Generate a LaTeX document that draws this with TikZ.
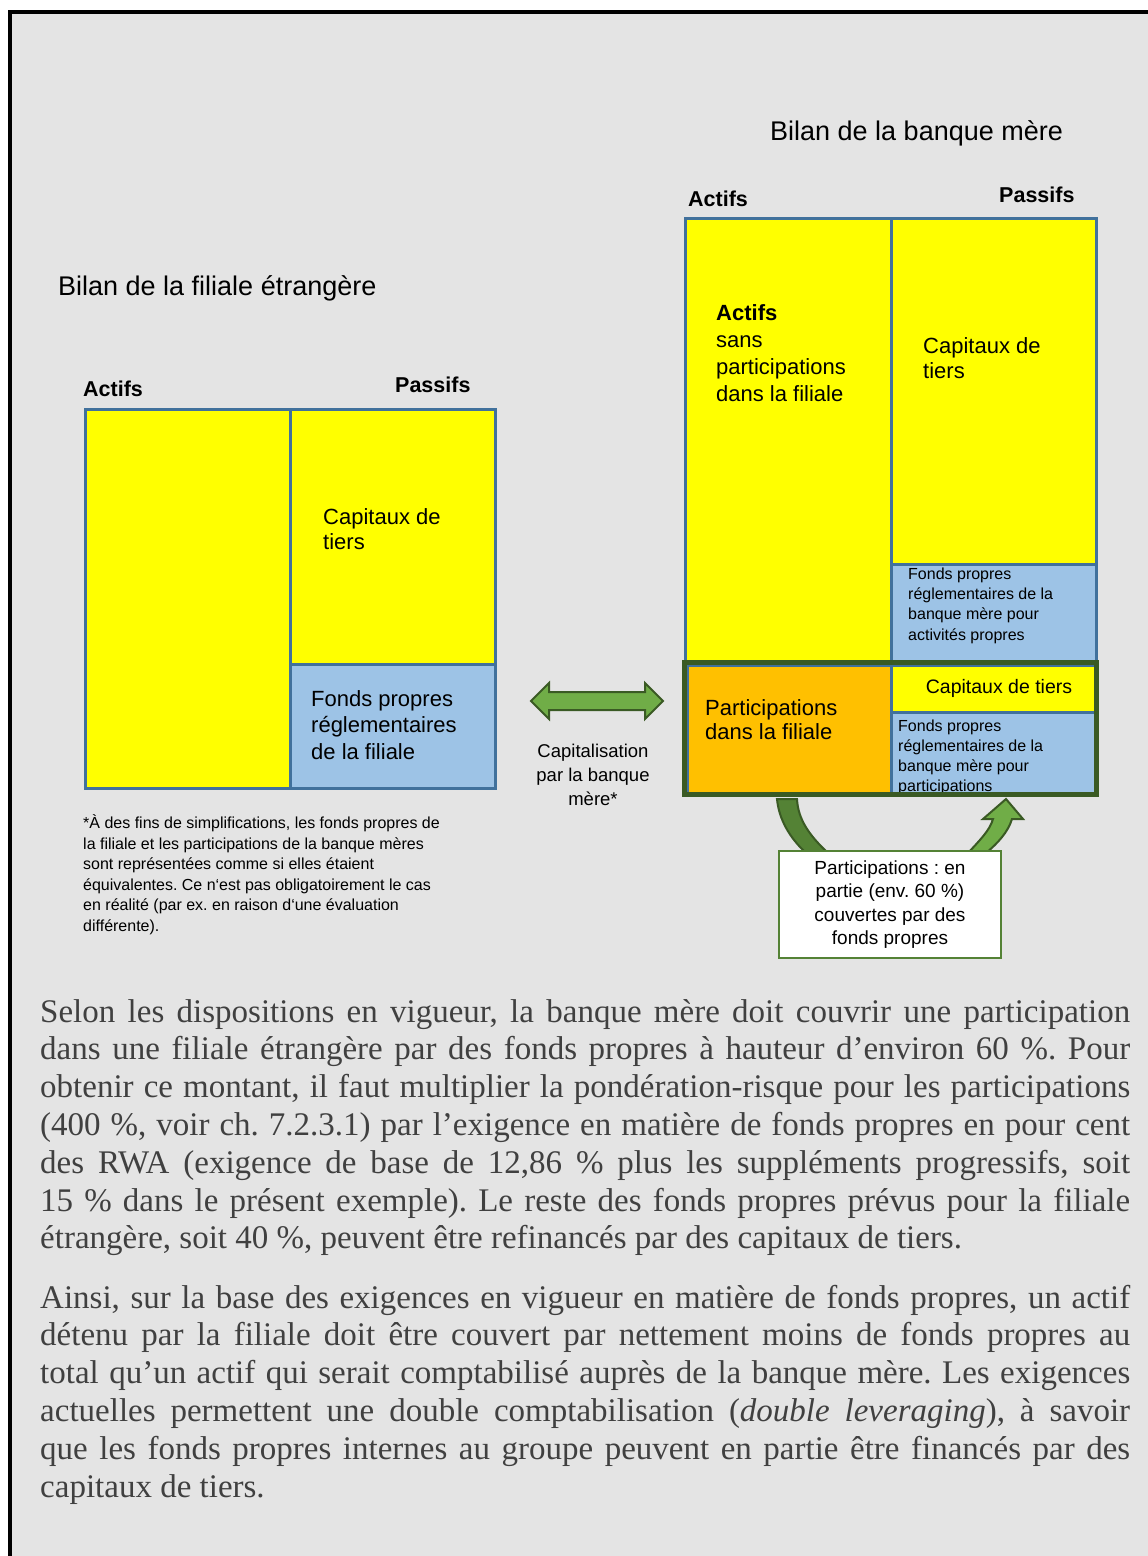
\documentclass[tikz,border=0pt]{standalone}
\usepackage{fontspec}
\setmainfont{Liberation Serif}
\setsansfont{Liberation Sans}
\usetikzlibrary{positioning}
\frenchspacing

\definecolor{bgray}{HTML}{E4E4E4}
\definecolor{cyel}{HTML}{FFFF00}
\definecolor{cblue}{HTML}{9DC3E6}
\definecolor{cedge}{HTML}{41719C}
\definecolor{corange}{HTML}{FFC000}
\definecolor{gdark}{HTML}{3A5A24}
\definecolor{gmid}{HTML}{548235}
\definecolor{glight}{HTML}{70AD47}
\definecolor{bodytxt}{HTML}{404040}

\begin{document}
\begin{tikzpicture}[x=1pt, y=-1pt,
  cell/.style={draw=cedge, line width=2.5pt, inner sep=0pt, anchor=north west},
  head/.style={font=\fontsize{21.5}{26}\selectfont\sffamily\bfseries, inner sep=0pt, anchor=base west},
  title/.style={font=\fontsize{27}{32}\selectfont\sffamily, inner sep=0pt, anchor=base west},
  big/.style={font=\fontsize{22}{26.5}\selectfont\sffamily, inner sep=0pt, anchor=base west, align=left},
  small/.style={font=\fontsize{16}{20.3}\selectfont\sffamily, inner sep=0pt, anchor=base west, align=left},
  note/.style={font=\fontsize{16}{20.6}\selectfont\sffamily, inner sep=0pt, anchor=base west, align=left},
  infobox/.style={draw=gmid, fill=white, line width=1.2pt, minimum width=222, minimum height=107, inner sep=0pt, align=center, font=\fontsize{19}{23.6}\selectfont\sffamily},
  bodytext/.style={font=\fontsize{33}{37.8}\selectfont, text=bodytxt, text width=1090pt, align=justify, inner sep=0pt, anchor=base west},
  blockarrow/.style={draw=gdark, line width=2pt, line join=miter},
]
\useasboundingbox (0,0) rectangle (1148,1556);
\fill[white] (0,0) rectangle (1148,1556);
\fill[bgray] (10,12) rectangle (1148,1556);
\draw[line width=3.5pt] (10,1556) -- (10,12) -- (1148,12);

% filiale
\node[title] (tFil) at (58,295) {Bilan de la filiale étrangère};
\node[head] (fAhead) at (83,396) {Actifs};
\node[head] (fPhead) at (395,392) {Passifs};
\node[cell, fill=cyel, minimum width=205, minimum height=379] (fAct) at (84,408) {};
\node[cell, fill=cyel, minimum width=205, minimum height=255] (fCap) at (289,408) {};
\node[cell, fill=cblue, minimum width=205, minimum height=124] (fFp) at (289,663) {};
\node[big, font=\fontsize{22}{25}\selectfont\sffamily] (fCapText) at (323,549) {Capitaux de\\tiers};
\node[big] (fFpText) at (311,759) {Fonds propres\\réglementaires\\de la filiale};

% banque mere
\node[title] (tMere) at (770,140) {Bilan de la banque mère};
\node[head] (mAhead) at (688,206) {Actifs};
\node[head] (mPhead) at (999,202) {Passifs};
\node[cell, fill=cyel, minimum width=206, minimum height=445] (mAct) at (684,217) {};
\node[cell, fill=cyel, minimum width=205, minimum height=346] (mCap) at (890,217) {};
\node[cell, fill=cblue, minimum width=205, minimum height=99] (mFp) at (890,563) {};
\node[big, font=\fontsize{22}{27}\selectfont\sffamily] (mActText) at (716,401) {\textbf{Actifs}\\sans\\participations\\dans la filiale};
\node[big, font=\fontsize{22}{25}\selectfont\sffamily] (mCapText) at (923,378) {Capitaux de\\tiers};
\node[small] (mFpText) at (908,640) {Fonds propres\\réglementaires de la\\banque mère pour\\activités propres};

% participations
\node[cell, fill=corange, minimum width=204, minimum height=130] (pOr) at (686,664) {};
\node[cell, fill=cyel, minimum width=205, minimum height=47] (pCap) at (890,664) {};
\node[cell, fill=cblue, minimum width=205, minimum height=83] (pFp) at (890,711) {};
\node[big, font=\fontsize{22}{24.5}\selectfont\sffamily] (pOrText) at (705,739.5) {Participations\\dans la filiale};
\node[big, font=\fontsize{19.5}{24}\selectfont\sffamily, anchor=base] (pCapText) at (999,693) {Capitaux de tiers};
\begin{scope}
  \clip (890,711) rectangle (1095,792);
  \node[small, font=\fontsize{16}{20}\selectfont\sffamily] (pFpText) at (898,791.7) {Fonds propres\\réglementaires de la\\banque mère pour\\participations};
\end{scope}
\draw[gdark, line width=5pt] (684,662.5) rectangle (1096,794.5);

% capitalisation
\draw[blockarrow, fill=glight] (531,701) -- (549,683) -- (549,692) -- (645,692) -- (645,683)
  -- (663,701) -- (645,719) -- (645,710) -- (549,710) -- (549,719) -- cycle;
\node[big, font=\fontsize{18.5}{24}\selectfont\sffamily, align=center, anchor=base] (capText) at (593,805) {Capitalisation\\par la banque\\mère*};
\node[note] (fnote) at (83,931.5) {*À des fins de simplifications, les fonds propres de\\la filiale et les participations de la banque mères\\sont représentées comme si elles étaient\\équivalentes. Ce n‘est pas obligatoirement le cas\\en réalité (par ex. en raison d‘une évaluation\\différente).};

% couverture
\draw[blockarrow, fill=gmid] (777,799) .. controls (779,820) and (790,838) .. (806,853)
  -- (828,853) .. controls (810,836) and (798,820) .. (797,799) -- cycle;
\draw[blockarrow, fill=glight] (968,853) .. controls (980,840) and (990,830) .. (993,819)
  -- (983,819) -- (1006,799) -- (1023,819) -- (1012,819)
  .. controls (1008,832) and (998,843) .. (986,853) -- cycle;
\node[infobox] (share) at (890,904.5) {Participations : en\\partie (env.~60~\%)\\couvertes par des\\fonds propres};

% texte
\node[bodytext] (para1) at (40,1022) {Selon les dispositions en vigueur, la banque mère doit couvrir une participation\linebreak
dans une filiale étrangère par des fonds propres à hauteur d’environ 60~\%. Pour\linebreak
obtenir ce montant, il faut multiplier la pondération-risque pour les participations\linebreak
(400~\%, voir ch. 7.2.3.1) par l’exigence en matière de fonds propres en pour cent\linebreak
des RWA (exigence de base de 12,86~\% plus les suppléments progressifs, soit\linebreak
15~\% dans le présent exemple). Le reste des fonds propres prévus pour la filiale\linebreak
étrangère, soit 40~\%, peuvent être refinancés par des capitaux de tiers.};
\node[bodytext] (para2) at (40,1308) {Ainsi, sur la base des exigences en vigueur en matière de fonds propres, un actif\linebreak
détenu par la filiale doit être couvert par nettement moins de fonds propres au\linebreak
total qu’un actif qui serait comptabilisé auprès de la banque mère. Les exigences\linebreak
actuelles permettent une double comptabilisation (\textit{double leveraging}), à savoir\linebreak
que les fonds propres internes au groupe peuvent en partie être financés par des\linebreak
capitaux de tiers.};
\end{tikzpicture}
\end{document}
